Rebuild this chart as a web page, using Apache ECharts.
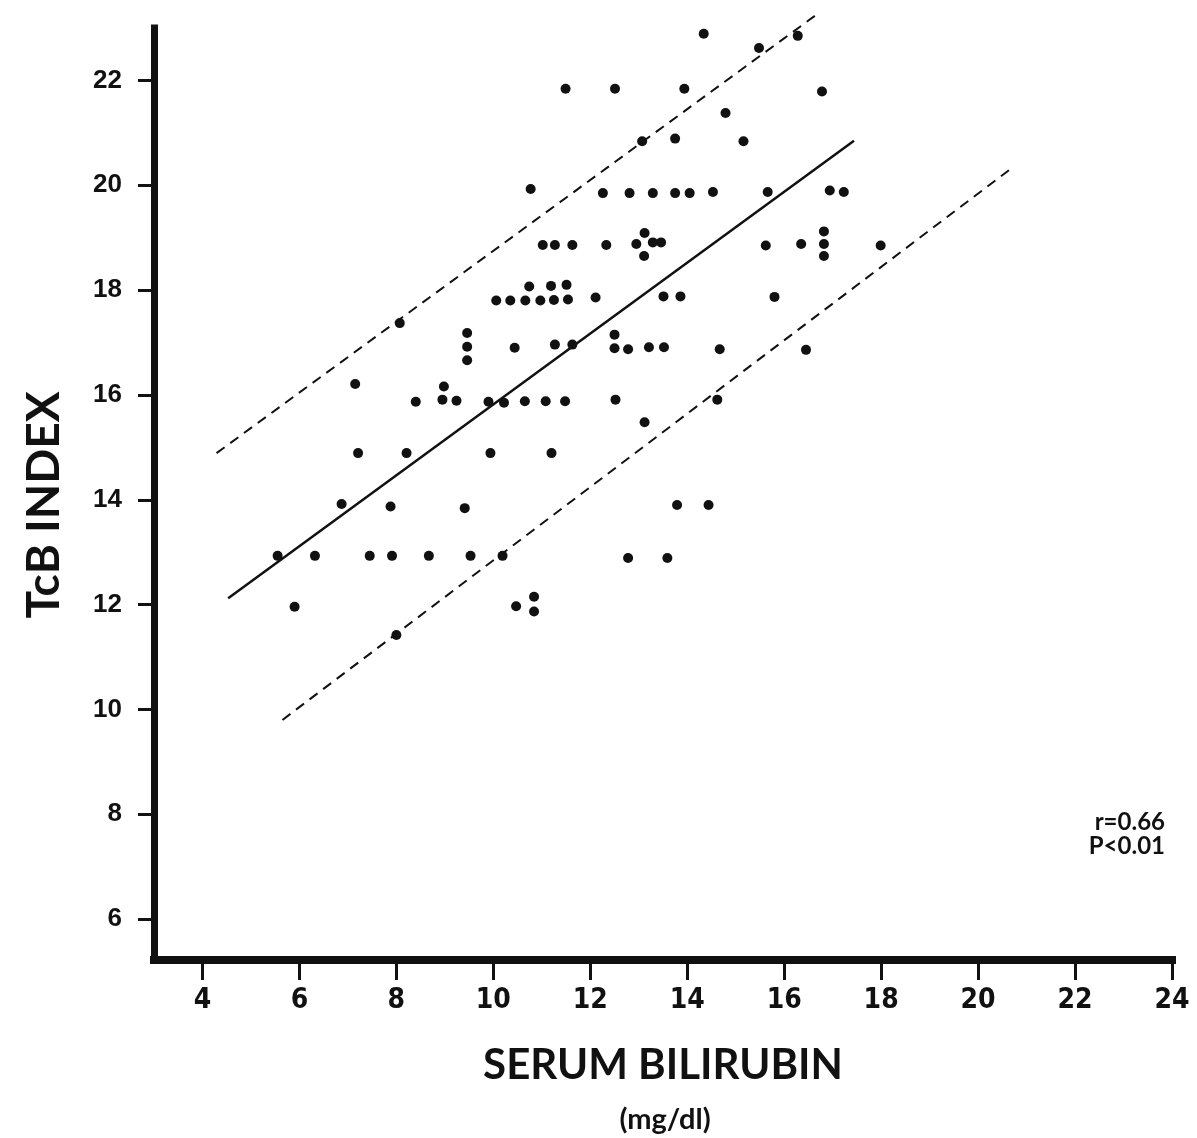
<!DOCTYPE html>
<html>
<head>
<meta charset="utf-8">
<title>TcB index vs serum bilirubin</title>
<script src="https://cdn.jsdelivr.net/npm/echarts@6/dist/echarts.min.js"></script>
<style>
  html, body { margin: 0; padding: 0; background: #fff; }
  #chart-container { width: 1197px; height: 1138px; }
</style>
</head>
<body>
<div id="chart-container"></div>
<script>
// tick labels
var xTicks = [4, 6, 8, 10, 12, 14, 16, 18, 20, 22, 24];
var yTicks = [6, 8, 10, 12, 14, 16, 18, 20, 22];

// [serum bilirubin, TcB index]
var points = [
  [14.34, 22.89], [15.48, 22.62], [16.28, 22.85],
  [11.49, 21.84], [12.51, 21.84], [13.94, 21.84], [16.78, 21.79],
  [14.79, 21.38],
  [13.07, 20.84], [13.75, 20.89], [15.16, 20.84],
  [10.77, 19.93], [12.26, 19.85], [12.81, 19.85], [13.29, 19.85], [13.75, 19.85],
  [14.05, 19.85], [14.53, 19.87], [15.66, 19.87], [16.94, 19.9], [17.23, 19.87],
  [11.02, 18.86], [11.27, 18.86], [11.63, 18.86], [12.33, 18.86], [12.95, 18.88],
  [13.12, 19.09], [13.29, 18.91], [13.46, 18.91], [13.11, 18.65], [15.62, 18.85],
  [16.35, 18.88], [16.82, 19.12], [16.82, 18.88], [16.82, 18.65], [17.99, 18.85],
  [10.74, 18.07], [11.19, 18.08], [11.51, 18.1],
  [10.06, 17.8], [10.35, 17.8], [10.66, 17.8], [10.97, 17.8], [11.25, 17.81],
  [11.54, 17.82], [12.11, 17.86], [13.51, 17.88], [13.86, 17.88], [15.8, 17.87],
  [8.07, 17.37],
  [9.46, 17.18], [9.46, 16.92], [9.46, 16.66], [10.44, 16.9], [11.27, 16.96],
  [11.63, 16.96], [12.5, 17.15], [12.5, 16.89], [12.78, 16.87], [13.21, 16.91],
  [13.52, 16.91], [14.67, 16.87], [16.45, 16.86],
  [7.15, 16.21], [8.98, 16.16],
  [8.4, 15.87], [8.95, 15.91], [9.24, 15.89], [9.9, 15.87], [10.22, 15.85],
  [10.65, 15.88], [11.08, 15.88], [11.48, 15.88], [12.52, 15.91], [14.62, 15.91],
  [13.12, 15.48],
  [7.21, 14.89], [8.21, 14.89], [9.94, 14.89], [11.2, 14.89],
  [6.87, 13.92], [7.88, 13.87], [9.41, 13.84], [13.79, 13.9], [14.44, 13.9],
  [5.55, 12.93], [6.32, 12.93], [7.45, 12.93], [7.91, 12.93], [8.67, 12.93],
  [9.53, 12.93], [10.19, 12.93], [12.78, 12.89], [13.59, 12.89],
  [5.9, 11.96], [10.47, 11.97], [10.84, 12.15], [10.84, 11.87],
  [8.0, 11.42]
];

// regression line and the two limit lines (end points)
var fitLine = [[4.53, 12.12], [17.44, 20.85]];
var upperLine = [[4.29, 14.89], [16.66, 23.25]];
var lowerLine = [[5.65, 9.8], [20.67, 20.31]];

var dom = document.getElementById("chart-container");
var myChart = echarts.init(dom, null, { renderer: "canvas" });

var ink = "#111";

var option = {
  backgroundColor: "#fff",
  animation: false,
  grid: {
    left: 154,
    right: 25,
    top: 28,
    bottom: 178,
    outerBoundsMode: "none"
  },
  xAxis: {
    type: "value",
    min: 3,
    max: 24,
    name: "SERUM BILIRUBIN",
    nameLocation: "middle",
    nameGap: 84,
    nameTextStyle: {
      fontFamily: "Lato",
      fontWeight: "bold",
      fontSize: 42,
      color: ink
    },
    splitLine: { show: false },
    axisLine: { lineStyle: { color: ink, width: 8, cap: "square" } },
    axisTick: {
      customValues: xTicks,
      length: 20,
      lineStyle: { color: ink, width: 3 }
    },
    axisLabel: {
      customValues: xTicks,
      margin: 27,
      fontFamily: "'DejaVu Sans Condensed', 'Liberation Sans Narrow', sans-serif",
      fontWeight: "bold",
      fontSize: 28,
      color: ink
    }
  },
  yAxis: {
    type: "value",
    min: 5.22,
    max: 23,
    splitLine: { show: false },
    axisLine: { lineStyle: { color: ink, width: 7, cap: "square" } },
    axisTick: {
      customValues: yTicks,
      length: 16,
      lineStyle: { color: ink, width: 3 }
    },
    axisLabel: {
      customValues: yTicks,
      margin: 32,
      fontFamily: "Liberation Sans",
      fontWeight: "bold",
      fontSize: 26,
      color: ink
    }
  },
  graphic: [
    {
      type: "text",
      x: 44,
      y: 505,
      rotation: Math.PI / 2,
      style: {
        text: "TcB INDEX",
        align: "center",
        verticalAlign: "middle",
        fontFamily: "Lato",
        fontWeight: "bold",
        fontSize: 46,
        fill: ink
      }
    },
    {
      type: "text",
      x: 665,
      y: 1120,
      style: {
        text: "(mg/dl)",
        align: "center",
        verticalAlign: "middle",
        fontFamily: "Lato",
        fontWeight: "bold",
        fontSize: 29,
        fill: ink
      }
    },
    {
      type: "text",
      x: 1165,
      y: 834,
      style: {
        text: "r=0.66\nP<0.01",
        align: "right",
        verticalAlign: "middle",
        fontFamily: "Lato",
        fontWeight: "bold",
        fontSize: 24,
        lineHeight: 24,
        fill: ink
      }
    }
  ],
  series: [
    {
      type: "scatter",
      data: points,
      symbol: "circle",
      symbolSize: 10,
      itemStyle: { color: ink, opacity: 1 }
    },
    {
      type: "line",
      data: fitLine,
      symbol: "none",
      lineStyle: { color: ink, width: 2.5 }
    },
    {
      type: "line",
      data: upperLine,
      symbol: "none",
      clip: false,
      lineStyle: { color: ink, width: 2, type: [10, 7] }
    },
    {
      type: "line",
      data: lowerLine,
      symbol: "none",
      lineStyle: { color: ink, width: 2, type: [10, 7] }
    }
  ]
};

myChart.setOption(option);
window.addEventListener("resize", myChart.resize);
</script>
</body>
</html>
